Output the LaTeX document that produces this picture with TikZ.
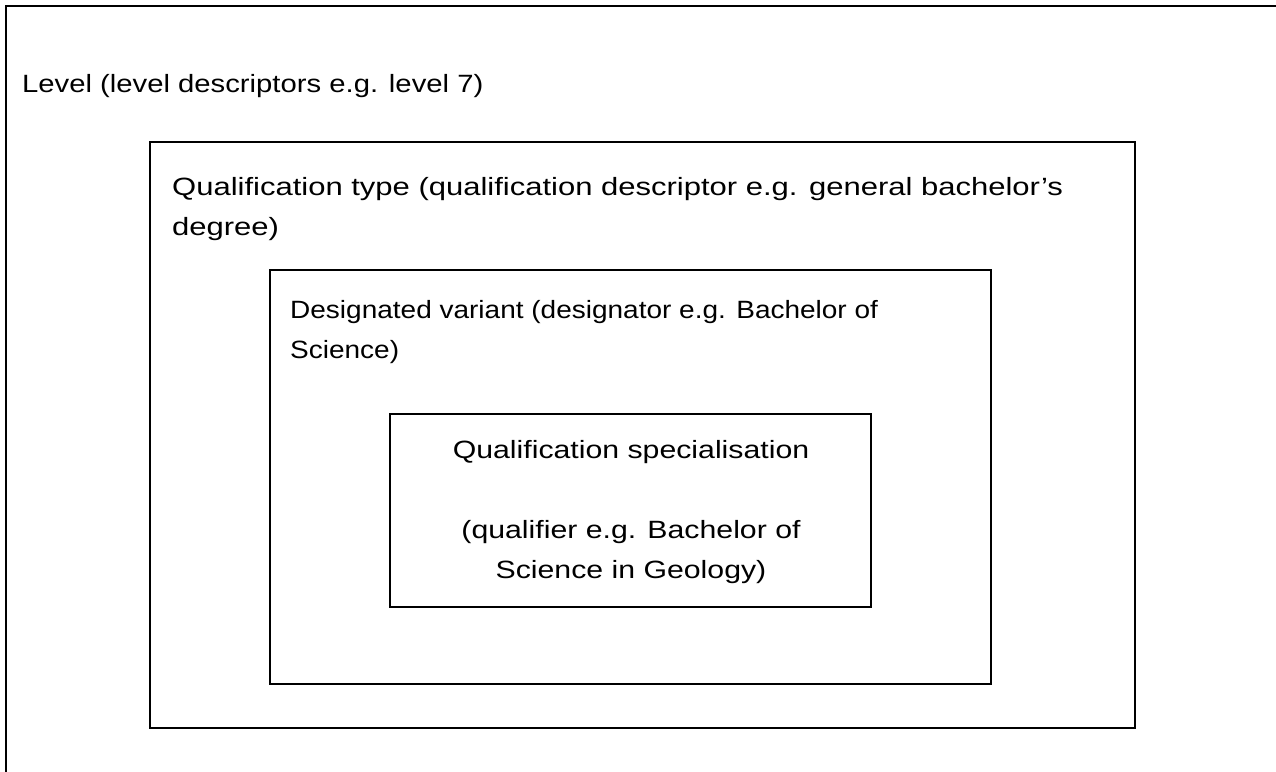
\documentclass[tikz,border=0pt]{standalone}
\usepackage{fontspec}
\setmainfont{Liberation Sans}
\newfontfamily\levfont[FakeStretch=1.17]{Liberation Sans}
\newfontfamily\qtfont[FakeStretch=1.24]{Liberation Sans}
\newfontfamily\varfont[FakeStretch=1.12]{Liberation Sans}
\newfontfamily\specfont[FakeStretch=1.21]{Liberation Sans}
\usetikzlibrary{positioning}

\begin{document}
\begin{tikzpicture}[
    x=1pt,y=-1pt,
    frame/.style={draw,line width=1.8pt,inner sep=0pt,
      minimum width=#1},
    lbl/.style={font=#1\fontsize{25}{40}\selectfont,inner sep=0pt}
  ]
  \useasboundingbox (0,0) rectangle (1276,771);
  \clip (0,0) rectangle (1276,771);

  % nested frames
  \node[frame=1294,minimum height=794] (level) at (653,403) {};
  \node[frame=985,minimum height=586] (qtype) at (642.5,435) {};
  \node[frame=721,minimum height=414] (variant) at (630.5,477) {};
  \node[frame=481,minimum height=193] (special) at (630.5,510.5) {};

  % labels (base = last line)
  \node[lbl=\levfont,anchor=base west] (levtxt) at (22,92)
    {Level (level descriptors e.g. level 7)};
  \node[lbl=\qtfont,anchor=base west,align=left] (qtxt) at (172,235)
    {Qualification type (qualification descriptor e.g. general bachelor’s\\degree)};
  \node[lbl=\varfont,anchor=base west,align=left] (vtxt) at (290,358)
    {Designated variant (designator e.g. Bachelor of\\Science)};
  \node[lbl=\specfont,anchor=base,align=center] (stxt) at (631,578)
    {Qualification specialisation\\[40pt](qualifier e.g. Bachelor of\\Science in Geology)};
\end{tikzpicture}
\end{document}
